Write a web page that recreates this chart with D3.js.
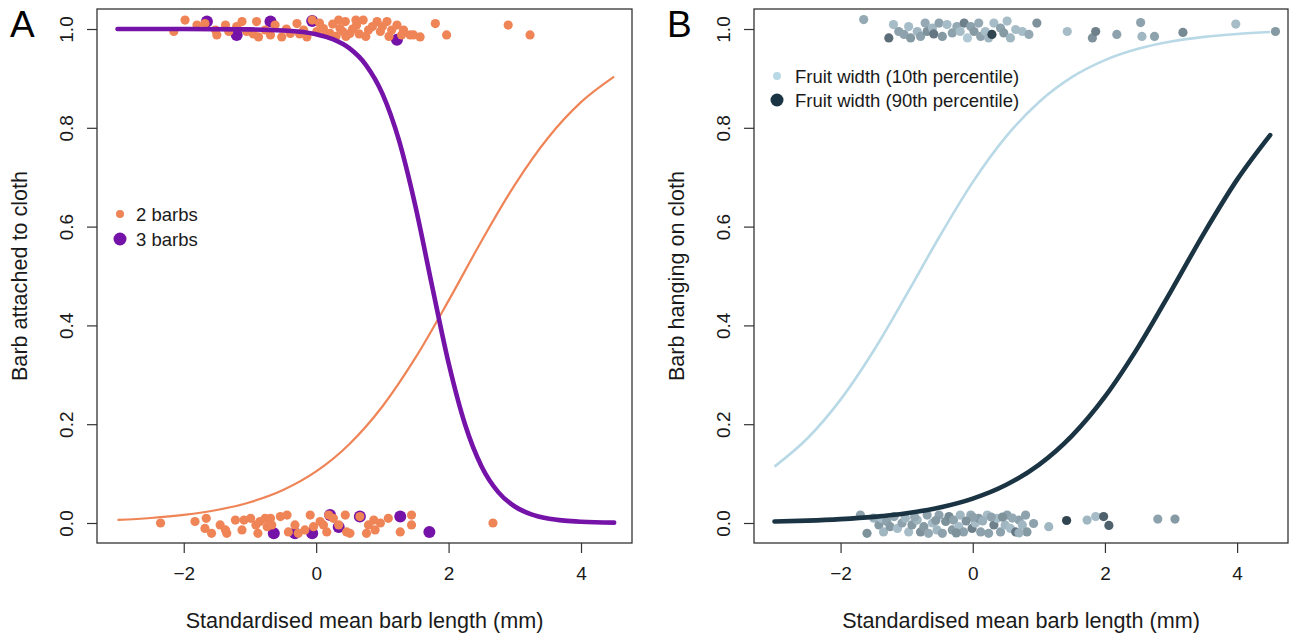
<!DOCTYPE html>
<html>
<head>
<meta charset="utf-8">
<script src="https://cdn.jsdelivr.net/npm/d3@7/dist/d3.min.js"></script>
<style>
  html, body { margin: 0; padding: 0; background: #ffffff; }
  svg { display: block; font-family: "Liberation Sans", Arial, Helvetica, sans-serif; }
</style>
</head>
<body>
<svg id="chart" width="1290" height="636"></svg>
<script>
// ---------------- DATA ----------------
const xTickValues = [-2, 0, 2, 4];
const xTickLabels = ["\u22122", "0", "2", "4"];
const yTickValues = [0, 0.2, 0.4, 0.6, 0.8, 1.0];
const yTickLabels = ["0.0", "0.2", "0.4", "0.6", "0.8", "1.0"];

const xTitle = "Standardised mean barb length (mm)";
const yTitleA = "Barb attached to cloth";
const yTitleB = "Barb hanging on cloth";
const legendA = ["2 barbs", "3 barbs"];
const legendB = ["Fruit width (10th percentile)", "Fruit width (90th percentile)"];

// Panel A fitted curves [x, p]
const curve2Barbs = [[-3,0.0062],[-2.5,0.0101],[-2,0.0163],[-1.5,0.0263],[-1,0.0421],[-0.5,0.0668],[0,0.1044],[0.5,0.1595],[1,0.2359],[1.5,0.3346],[2,0.4502],[2.5,0.5714],[3,0.6846],[3.5,0.7794],[4,0.8519],[4.5,0.9036]];
const curve3Barbs = [[-3,1.0],[-2,0.9999],[-1,0.9992],[-0.5,0.9971],[0,0.9893],[0.25,0.9795],[0.5,0.9612],[0.75,0.9276],[1,0.8692],[1.25,0.7749],[1.5,0.6407],[1.75,0.4803],[2,0.3238],[2.25,0.1988],[2.5,0.1139],[2.75,0.0625],[3,0.0334],[3.25,0.0176],[3.5,0.0092],[3.75,0.0048],[4,0.0025],[4.5,0.0007]];

// Panel A jittered observations [x, y]
const pts2Barbs = [
  [-2.15,0.995],[-1.98,1.018],[-1.80,1.008],[-1.68,1.011],[-1.52,0.998],[-1.50,0.988],[-1.37,1.008],[-1.32,0.995],
  [-1.12,1.015],[-1.05,0.995],[-0.90,1.015],[-0.87,0.984],[-0.77,0.998],[-0.69,0.988],[-0.62,1.008],[-0.52,0.984],
  [-0.39,0.991],[-0.29,1.011],[-0.19,0.998],[-0.14,0.984],[-0.06,1.018],[0.01,0.995],[0.11,1.001],[0.21,0.991],
  [0.34,1.018],[0.36,1.001],[0.44,1.015],[0.51,0.991],[0.61,1.008],[0.71,1.018],[0.79,0.998],[0.92,1.015],
  [0.97,0.995],[1.07,1.015],[1.14,0.998],[1.22,1.008],[1.32,0.998],[1.42,0.988],[1.57,0.984],[1.80,1.011],
  [1.97,0.988],[2.90,1.008],[3.23,0.988],[1.47,0.988],[1.29,0.988],
  [0.25,1.010],[0.55,1.000],[0.65,0.990],[0.85,1.005],[0.45,0.985],[0.15,0.990],[-0.45,1.000],[-0.95,0.990],
  [-1.20,1.005],[0.75,0.985],[1.00,1.005],[0.40,0.995],[0.05,1.012],[-0.25,0.990],[1.10,0.985],[0.60,1.018],[0.30,0.985],
  [-2.35,0.000],[-1.83,0.003],[-1.68,-0.011],[-1.66,0.0095],[-1.58,-0.021],[-1.45,-0.004],[-1.37,-0.014],[-1.35,-0.021],
  [-1.22,0.006],[-1.12,-0.014],[-1.09,0.006],[-0.99,0.0095],[-0.91,-0.004],[-0.88,-0.021],[-0.85,0.003],[-0.77,0.0095],
  [-0.74,-0.0075],[-0.69,0.0095],[-0.67,-0.004],[-0.54,0.013],[-0.44,0.016],[-0.42,-0.018],[-0.32,-0.004],[-0.27,-0.021],
  [-0.17,-0.014],[-0.09,0.016],[-0.04,-0.0075],[0.06,0.003],[0.11,-0.004],[0.16,-0.018],[0.19,0.016],[0.26,0.0095],
  [0.34,-0.004],[0.44,0.016],[0.46,-0.018],[0.51,-0.021],[0.66,0.013],[0.76,-0.021],[0.79,-0.004],[0.87,0.006],
  [0.89,-0.014],[0.97,0.000],[1.09,0.0095],[1.27,-0.018],[1.44,0.016],[1.44,-0.004],[2.67,0.000]
];
const pts3Barbs = [
  [-1.65,1.015],[-1.20,0.988],[-0.69,1.015],[-0.06,1.016],[1.22,0.978],
  [-0.64,-0.021],[-0.32,-0.021],[-0.06,-0.021],[0.21,0.016],[0.34,-0.008],[0.66,0.013],[1.27,0.013],[1.71,-0.018]
];

// Panel B fitted curves [x, p]
const curveNarrow = [[-3,0.1141],[-2.5,0.1715],[-2,0.2497],[-1.5,0.3487],[-1,0.4626],[-0.5,0.5805],[0,0.6900],[0.5,0.7816],[1,0.8519],[1.5,0.9025],[2,0.9370],[2.5,0.9599],[3,0.9747],[3.5,0.9841],[4,0.9900],[4.5,0.9938]];
const curveWide = [[-3,0.0030],[-2.5,0.0048],[-2,0.0078],[-1.5,0.0124],[-1,0.0197],[-0.5,0.0313],[0,0.0493],[0.5,0.0768],[1,0.1177],[1.5,0.1764],[2,0.2557],[2.5,0.3555],[3,0.4695],[3.5,0.5869],[4,0.6951],[4.5,0.7853]];

// Panel B jittered observations [x, y, relative fruit width 0..1]
const ptsFruit = [
  [-1.65,1.019,.45],[-1.27,0.982,.8],[-1.20,1.009,.3],[-1.12,0.995,.5],[-1.04,0.989,.5],[-0.97,1.005,.3],[-0.94,0.982,.55],
  [-0.84,0.995,.35],[-0.79,0.985,.5],[-0.72,1.012,.45],[-0.69,0.995,.6],[-0.61,1.002,.35],[-0.59,0.990,.75],[-0.51,1.012,.5],
  [-0.46,0.985,.55],[-0.39,1.009,.3],[-0.31,0.992,.5],[-0.24,1.005,.45],[-0.19,0.995,.3],[-0.13,1.012,.7],[-0.08,0.982,.2],
  [-0.03,1.005,.5],[0.02,0.995,.55],[0.09,1.012,.45],[0.12,0.985,.5],[0.19,0.995,.3],[0.24,0.982,.35],[0.29,0.989,.95],
  [0.32,1.012,.3],[0.42,1.002,.5],[0.47,0.992,.55],[0.52,1.016,.3],[0.57,0.982,.35],[0.65,0.999,.3],[0.75,0.995,.3],
  [0.85,0.989,.45],[0.97,1.012,.6],[1.43,0.995,.3],[1.81,0.982,.6],[1.86,0.995,.7],[2.18,0.989,.5],[2.54,1.013,.5],
  [2.56,0.985,.35],[2.75,0.985,.5],[3.18,0.993,.65],[3.98,1.010,.3],[4.58,0.995,.55],
  [-1.70,0.016,.5],[-1.60,-0.021,.6],[-1.42,-0.004,.55],[-1.38,0.0095,.3],[-1.35,-0.018,.35],[-1.30,0.003,.5],[-1.25,-0.0075,.55],
  [-1.19,0.013,.45],[-1.14,-0.011,.3],[-1.07,0.000,.5],[-1.02,0.0095,.35],[-0.97,-0.018,.3],[-0.92,-0.004,.55],[-0.84,0.006,.35],
  [-0.79,-0.018,.6],[-0.74,-0.0075,.55],[-0.69,0.016,.5],[-0.67,-0.021,.45],[-0.61,0.000,.3],[-0.54,-0.014,.35],[-0.51,0.016,.5],
  [-0.46,-0.021,.5],[-0.41,0.003,.6],[-0.36,0.013,.65],[-0.31,-0.014,.55],[-0.29,0.006,.5],[-0.21,-0.0075,.3],[-0.19,0.016,.35],
  [-0.14,-0.018,.5],[-0.03,0.016,.45],[-0.01,-0.011,.7],[0.04,0.000,.3],[0.09,0.0095,.55],[0.12,-0.018,.5],[0.22,0.016,.3],
  [0.24,-0.021,.5],[0.32,-0.004,.7],[0.37,0.0095,.3],[0.42,-0.018,.5],[0.49,-0.004,.35],[0.52,0.016,.5],[0.57,-0.011,.3],
  [0.65,-0.018,.75],[0.70,0.006,.5],[0.75,-0.004,.35],[0.80,0.016,.5],[0.82,-0.018,.55],[0.92,-0.001,.5],[1.15,-0.0075,.35],
  [1.42,0.005,.95],[1.73,0.006,.35],[1.86,0.013,.3],[1.98,0.013,.85],[2.06,-0.005,.85],[2.80,0.008,.5],[3.06,0.008,.55],
  [-1.50,0.010,.4],[-0.88,0.012,.45],[-0.56,0.005,.55],[-0.25,-0.020,.6],[0.00,0.012,.5],[0.15,0.004,.4],[0.28,0.012,.5],
  [0.60,0.010,.45],[0.45,0.012,.6],[0.70,-0.020,.4],[-0.10,0.004,.6]
];

// ---------------- STYLE ----------------
const colOrange = "#ef8457";
const colPurple = "#7512a8";
const colLight = "#b9d9e6";
const colDark = "#1b3444";
const fruitColor = d3.interpolateRgb.gamma(2.0)("#c6e0eb", "#15303f");
const boxColor = "#333333";
const textColor = "#1a1a1a";

const svg = d3.select("#chart");
const plotTop = 9, plotBottom = 543;
const xDomain = [-3.31, 4.77];
const yDomain = [-0.0405, 1.0405];

function panel(left, right, letter, yTitle) {
  const g = svg.append("g");
  const x = d3.scaleLinear().domain(xDomain).range([left, right]);
  const y = d3.scaleLinear().domain(yDomain).range([plotBottom, plotTop]);

  const xa = g.append("g").attr("transform", `translate(0,${plotBottom})`)
    .call(d3.axisBottom(x).tickValues(xTickValues).tickFormat((d, i) => xTickLabels[i]).tickSizeOuter(0).tickSize(10).tickPadding(14));
  xa.select(".domain").remove();
  xa.selectAll("line").attr("stroke", boxColor).attr("stroke-width", 1.2);
  xa.selectAll("text").attr("font-size", 19).attr("fill", textColor).attr("font-family", "Liberation Sans, Arial, sans-serif");

  const ya = g.append("g").attr("transform", `translate(${left},0)`)
    .call(d3.axisLeft(y).tickValues(yTickValues).tickFormat((d, i) => yTickLabels[i]).tickSizeOuter(0).tickSize(10));
  ya.select(".domain").remove();
  ya.selectAll("line").attr("stroke", boxColor).attr("stroke-width", 1.2);
  ya.selectAll("text")
    .attr("font-size", 19).attr("fill", textColor).attr("font-family", "Liberation Sans, Arial, sans-serif")
    .attr("text-anchor", "middle").attr("dy", null).attr("x", 0).attr("y", -24)
    .attr("transform", "rotate(-90)");

  g.append("text").attr("x", (left + right) / 2).attr("y", 628)
    .attr("text-anchor", "middle").attr("font-size", 21.6).attr("fill", textColor).text(xTitle);
  g.append("text").attr("transform", `translate(${left - 70},${(plotTop + plotBottom) / 2}) rotate(-90)`)
    .attr("text-anchor", "middle").attr("font-size", 21.6).attr("fill", textColor).text(yTitle);
  g.append("text").attr("x", left - 87).attr("y", 37).attr("font-size", 37).attr("fill", "#000").text(letter);

  return { g, x, y };
}

const A = panel(97, 632, "A", yTitleA);
const B = panel(754, 1288, "B", yTitleB);

const line = (p) => d3.line().x(d => p.x(d[0])).y(d => p.y(d[1])).curve(d3.curveMonotoneX);

// Panel A marks
A.g.append("g").selectAll("circle").data(pts3Barbs).join("circle")
  .attr("cx", d => A.x(d[0])).attr("cy", d => A.y(d[1])).attr("r", 6).attr("fill", colPurple);
A.g.append("g").selectAll("circle").data(pts2Barbs).join("circle")
  .attr("cx", d => A.x(d[0])).attr("cy", d => A.y(d[1])).attr("r", 4.6).attr("fill", colOrange);
A.g.append("path").datum(curve2Barbs).attr("d", line(A)).attr("fill", "none")
  .attr("stroke", colOrange).attr("stroke-width", 2.2);
A.g.append("path").datum(curve3Barbs).attr("d", line(A)).attr("fill", "none")
  .attr("stroke", colPurple).attr("stroke-width", 4.6).attr("stroke-linecap", "round");

const legA = A.g.append("g");
legA.append("circle").attr("cx", 120).attr("cy", 214).attr("r", 4).attr("fill", colOrange);
legA.append("circle").attr("cx", 120).attr("cy", 239).attr("r", 6.5).attr("fill", colPurple);
legA.selectAll("text").data(legendA).join("text")
  .attr("x", 136).attr("y", (d, i) => 221 + i * 25).attr("font-size", 18.5).attr("fill", textColor).text(d => d);

// Panel B marks
B.g.append("g").selectAll("circle").data(ptsFruit).join("circle")
  .attr("cx", d => B.x(d[0])).attr("cy", d => B.y(d[1])).attr("r", 4.6).attr("fill", d => fruitColor(d[2]));
B.g.append("path").datum(curveNarrow).attr("d", line(B)).attr("fill", "none")
  .attr("stroke", colLight).attr("stroke-width", 2.6);
B.g.append("path").datum(curveWide).attr("d", line(B)).attr("fill", "none")
  .attr("stroke", colDark).attr("stroke-width", 4.6).attr("stroke-linecap", "round");

const legB = B.g.append("g");
legB.append("circle").attr("cx", 777).attr("cy", 76).attr("r", 4).attr("fill", colLight);
legB.append("circle").attr("cx", 777).attr("cy", 100).attr("r", 6.5).attr("fill", colDark);
legB.selectAll("text").data(legendB).join("text")
  .attr("x", 795).attr("y", (d, i) => 83 + i * 24).attr("font-size", 18.5).attr("fill", textColor).text(d => d);

[[97, 632], [754, 1288]].forEach(([l, r]) => {
  svg.append("rect").attr("x", l).attr("y", plotTop).attr("width", r - l).attr("height", plotBottom - plotTop)
    .attr("fill", "none").attr("stroke", boxColor).attr("stroke-width", 1.3);
});
</script>
</body>
</html>
